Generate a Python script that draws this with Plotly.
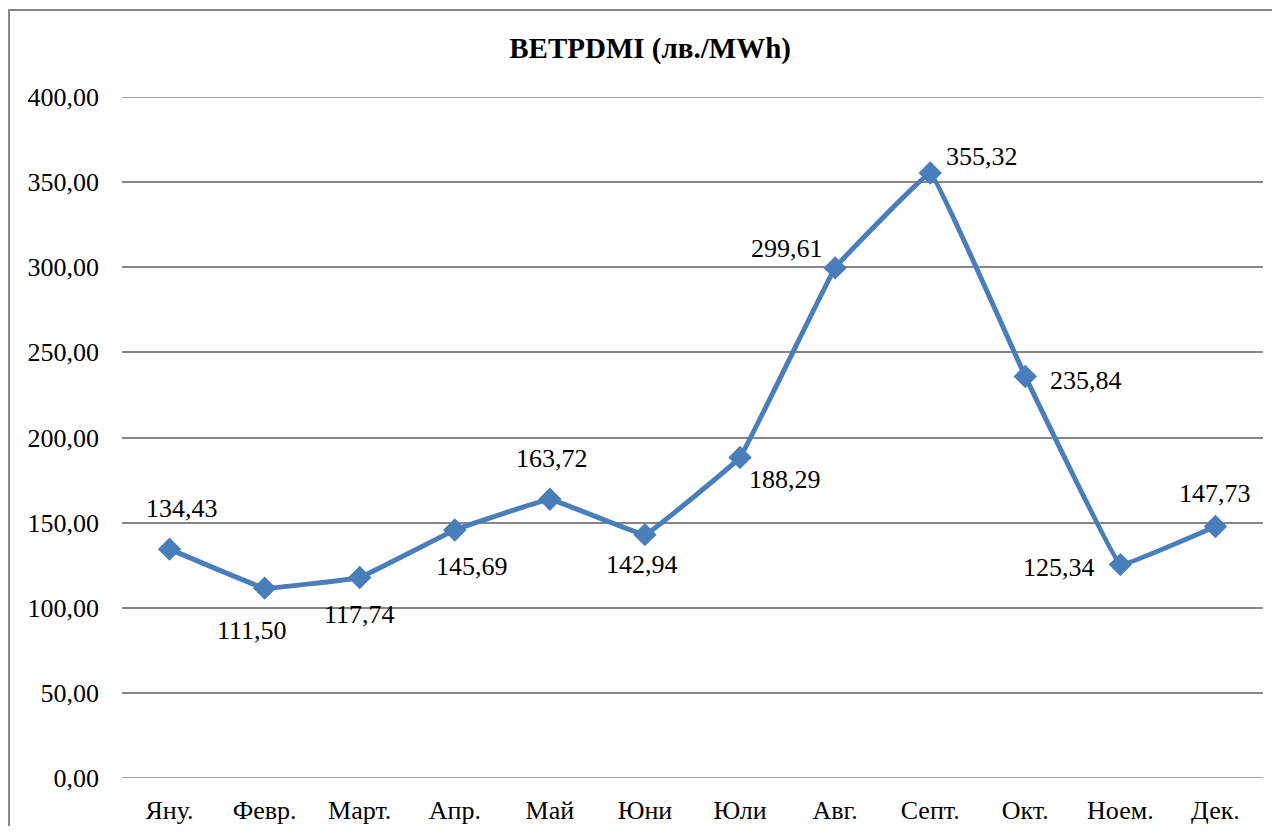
import plotly.graph_objects as go

months = ["Яну.", "Февр.", "Март.", "Апр.", "Май", "Юни", "Юли", "Авг.", "Септ.", "Окт.", "Ноем.", "Дек."]
values = [134.43, 111.50, 117.74, 145.69, 163.72, 142.94, 188.29, 299.61, 355.32, 235.84, 125.34, 147.73]
# label offsets (px) relative to each point: (dx, dy) with dy positive = up
label_dx = [12, -13, 0, 17, 2, -3, 45, -48, 52, 61, -61, 0]
label_dy = [41, -42, -37, -37, 41, -30, -22, 19, 17, -4, -3, 33]
y_ticks = [0, 50, 100, 150, 200, 250, 300, 350, 400]
y_tick_text = ["0,00", "50,00", "100,00", "150,00", "200,00", "250,00", "300,00", "350,00", "400,00"]
title_text = "BETPDMI (лв./MWh)"

labels = [f"{v:.2f}".replace(".", ",") for v in values]
FONT = "Liberation Serif"
GRID = "#868686"

fig = go.Figure()
fig.add_trace(go.Scatter(
    x=months, y=values, mode="lines+markers",
    line=dict(color="#4a7ebb", width=5, shape="spline", smoothing=0.15),
    marker=dict(symbol="diamond", size=18, color="#4a7ebb"),
    cliponaxis=False, hoverinfo="x+y", showlegend=False,
))

annotations = []
for m, v, t, dx, dy in zip(months, values, labels, label_dx, label_dy):
    annotations.append(dict(x=m, y=v, xref="x", yref="y", text=t, showarrow=False,
                            xshift=dx, yshift=dy, xanchor="center", yanchor="middle",
                            font=dict(family=FONT, size=26, color="#000000")))

fig.update_layout(
    width=1264, height=818,
    margin=dict(l=114, r=9, t=89, b=48),
    paper_bgcolor="white", plot_bgcolor="white",
    title=dict(text=f"<b>{title_text}</b>", x=0.508, xanchor="center", xref="container", y=0.951, yanchor="middle",
               font=dict(family=FONT, size=29, color="#000000")),
    xaxis=dict(type="category", range=[-0.5, 11.5], showgrid=False, showline=False, zeroline=False,
               automargin=False,
               ticks="", ticklabelstandoff=14, tickfont=dict(family=FONT, size=26, color="#000000")),
    yaxis=dict(range=[0, 400], tickvals=y_ticks, ticktext=y_tick_text, showgrid=True,
               gridcolor=GRID, gridwidth=1.5, zeroline=False, showline=False, ticks="",
               ticklabelstandoff=22, automargin=False,
               tickfont=dict(family=FONT, size=26, color="#000000")),
    annotations=annotations,
    shapes=[
        dict(type="line", xref="paper", yref="y", x0=0, x1=1, y0=0, y1=0,
             line=dict(color=GRID, width=1.5), layer="below"),
        dict(type="line", xref="paper", yref="y", x0=0, x1=1, y0=400, y1=400,
             line=dict(color=GRID, width=1.5), layer="below"),
        dict(type="rect", xref="paper", yref="paper", x0=-0.0990, x1=1.05, y0=-0.2, y1=1.1278,
             line=dict(color=GRID, width=2), layer="below"),
    ],
)

fig.write_html("out.html")
